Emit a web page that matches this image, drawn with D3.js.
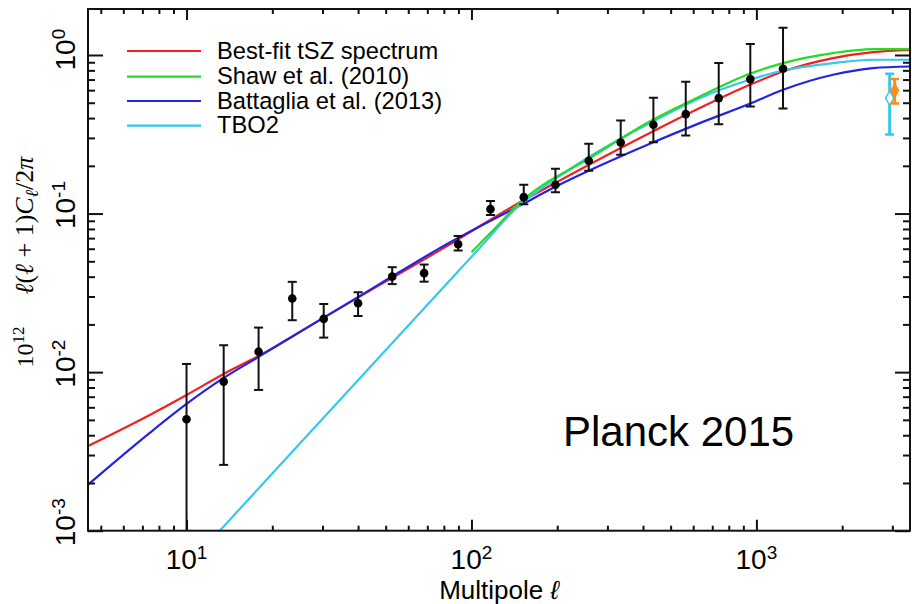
<!DOCTYPE html>
<html>
<head>
<meta charset="utf-8">
<script src="https://cdn.jsdelivr.net/npm/d3@7"></script>
<style>
  body { margin: 0; background: #fff; }
  text { font-family: "Liberation Sans", Arial, Helvetica, sans-serif; fill: #000; }
</style>
</head>
<body>
<div id="chart"></div>
<script>
// ---- data (D_l in units of 1e-12) ----
const ptEll  = [10.0, 13.5, 17.9, 23.5, 30.3, 40.0, 52.7, 68.2, 89.8, 116.6, 152.6, 197.1, 258, 334, 435, 565, 737.5, 952, 1240];
const ptVal  = [5.04e-3, 8.71e-3, 1.346e-2, 2.91e-2, 2.166e-2, 2.72e-2, 4.00e-2, 4.21e-2, 6.41e-2, 0.1066, 0.1269, 0.1518, 0.2151, 0.2805, 0.3628, 0.4238, 0.5346, 0.7047, 0.8184];
const ptHigh = [1.126e-2, 1.478e-2, 1.909e-2, 3.71e-2, 2.69e-2, 3.19e-2, 4.59e-2, 4.77e-2, 7.23e-2, 0.1202, 0.1517, 0.1914, 0.2753, 0.386, 0.537, 0.678, 0.889, 1.172, 1.484];
const ptLow  = [5e-4, 2.60e-3, 7.72e-3, 2.125e-2, 1.651e-2, 2.26e-2, 3.59e-2, 3.72e-2, 5.84e-2, 0.0981, 0.1146, 0.1365, 0.186, 0.2346, 0.282, 0.3105, 0.3664, 0.473, 0.4597];

// two extra points near l ~ 3000
const cyanPt   = { ell: 2936, val: 0.5346, high: 0.761, low: 0.315 };
const orangePt = { ell: 3057, val: 0.597, high: 0.7047, low: 0.494 };

// model curves
const redEll  = [4.51, 7.43, 10, 13.5, 17.9, 29.4, 47.7, 77.4, 151.7, 197, 432.8, 632.6, 947.4, 1240, 1857, 2566, 3451];
const redVal  = [3.42e-3, 5.37e-3, 7.18e-3, 9.74e-3, 1.265e-2, 2.135e-2, 3.55e-2, 5.86e-2, 0.1208, 0.1562, 0.3293, 0.4624, 0.6486, 0.787, 0.956, 1.043, 1.078];
const blueEll = [4.51, 7.43, 10, 13.5, 17.9, 29.4, 47.7, 77.4, 151.7, 197, 432.8, 632.6, 947.4, 1240, 1857, 2566, 3451];
const blueVal = [1.95e-3, 4.14e-3, 6.30e-3, 9.19e-3, 1.247e-2, 2.135e-2, 3.60e-2, 6.05e-2, 0.1151, 0.1474, 0.2805, 0.3718, 0.492, 0.603, 0.75, 0.827, 0.846];
const greenEll = [100, 116, 151.7, 260, 432.8, 632.6, 947.4, 1240, 1857, 2566, 3451];
const greenVal = [0.0571, 0.0748, 0.122, 0.2236, 0.3902, 0.547, 0.761, 0.889, 1.028, 1.089, 1.089];
const cyanEll = [13.08, 102.7, 147.8, 198.7, 260, 432.8, 632.6, 947.4, 1240, 1857, 2566, 3451];
const cyanVal = [1e-3, 0.0562, 0.1135, 0.1673, 0.2289, 0.3805, 0.5346, 0.6975, 0.798, 0.889, 0.933, 0.933];

const legendNames  = ["Best-fit tSZ spectrum", "Shaw et al. (2010)", "Battaglia et al. (2013)", "TBO2"];
const legendColors = ["#f2201f", "#22dd22", "#2323e6", "#35c8ee"];

const xMajor = [10, 100, 1000];
const xMajorExp = ["1", "2", "3"];
const yMajor = [1e-3, 1e-2, 1e-1, 1];
const yMajorExp = ["-3", "-2", "-1", "0"];

// ---- layout ----
const width = 912, height = 604;
const plotL = 88, plotR = 910, plotT = 9, plotB = 530.7;

const svg = d3.select("#chart").append("svg")
  .attr("width", width).attr("height", height);

const x = d3.scaleLog().domain([4.51, 3460]).range([plotL, plotR]);
const y = d3.scaleLog().domain([1e-3, 1.95]).range([plotB, plotT]);

svg.append("clipPath").attr("id", "plot-clip")
  .append("rect").attr("x", plotL).attr("y", plotT)
  .attr("width", plotR - plotL).attr("height", plotB - plotT);

// ---- curves ----
const line = d3.line().x(d => x(d[0])).y(d => y(d[1])).curve(d3.curveMonotoneX);
const curves = [
  [redEll, redVal, legendColors[0]],
  [blueEll, blueVal, legendColors[2]],
  [cyanEll, cyanVal, legendColors[3]],
  [greenEll, greenVal, legendColors[1]]
];
const curveG = svg.append("g").attr("clip-path", "url(#plot-clip)");
curves.forEach(([ls, vs, c]) => {
  curveG.append("path")
    .datum(ls.map((l, i) => [l, vs[i]]))
    .attr("d", line)
    .attr("fill", "none")
    .attr("stroke", c)
    .attr("stroke-width", 2.2);
});

// ---- data points with error bars ----
const pts = ptEll.map((l, i) => ({ ell: l, val: ptVal[i], high: ptHigh[i], low: ptLow[i] }));
const ptG = svg.append("g").attr("clip-path", "url(#plot-clip)");
const bars = ptG.selectAll("g.pt").data(pts).join("g").attr("class", "pt");
bars.append("line")
  .attr("x1", d => x(d.ell)).attr("x2", d => x(d.ell))
  .attr("y1", d => y(d.low)).attr("y2", d => y(d.high))
  .attr("stroke", "#111").attr("stroke-width", 2);
bars.append("line")
  .attr("x1", d => x(d.ell) - 4.5).attr("x2", d => x(d.ell) + 4.5)
  .attr("y1", d => y(d.high)).attr("y2", d => y(d.high))
  .attr("stroke", "#111").attr("stroke-width", 2);
bars.append("line")
  .attr("x1", d => x(d.ell) - 4.5).attr("x2", d => x(d.ell) + 4.5)
  .attr("y1", d => y(d.low)).attr("y2", d => y(d.low))
  .attr("stroke", "#111").attr("stroke-width", 2);
bars.append("circle")
  .attr("cx", d => x(d.ell)).attr("cy", d => y(d.val))
  .attr("r", 4.3).attr("fill", "#000");

// cyan and orange points
const diamond = d3.symbol().type(d3.symbolDiamond);
[[cyanPt, "#35c8ee", "#fff", 3, 60], [orangePt, "#ff8a1a", "#ff8a1a", 3, 50]].forEach(([p, c, f, w, s]) => {
  const g = ptG.append("g");
  g.append("line")
    .attr("x1", x(p.ell)).attr("x2", x(p.ell))
    .attr("y1", y(p.low)).attr("y2", y(p.high))
    .attr("stroke", c).attr("stroke-width", w);
  [p.low, p.high].forEach(v => {
    g.append("line")
      .attr("x1", x(p.ell) - 4.5).attr("x2", x(p.ell) + 4.5)
      .attr("y1", y(v)).attr("y2", y(v))
      .attr("stroke", c).attr("stroke-width", 2.5);
  });
  g.append("path")
    .attr("d", diamond.size(s)())
    .attr("transform", `translate(${x(p.ell)},${y(p.val)})`)
    .attr("fill", f).attr("stroke", c).attr("stroke-width", 1.5);
});

// ---- axes (ticks pointing inward on all four sides) ----
const xMinor = x.ticks().filter(t => !xMajor.includes(t));
const yMinor = y.ticks().filter(t => !yMajor.some(m => Math.abs(m - t) / m < 1e-6));

function ticks(g) {
  g.select(".domain").remove();
  g.selectAll(".tick line").attr("stroke", "#111").attr("stroke-width", 2);
}
svg.append("g").attr("transform", `translate(0,${plotB})`)
  .call(d3.axisBottom(x).tickValues(xMajor).tickSize(-11).tickFormat("")).call(ticks);
svg.append("g").attr("transform", `translate(0,${plotB})`)
  .call(d3.axisBottom(x).tickValues(xMinor).tickSize(-5).tickFormat("")).call(ticks);
svg.append("g").attr("transform", `translate(0,${plotT})`)
  .call(d3.axisTop(x).tickValues(xMajor).tickSize(-11).tickFormat("")).call(ticks);
svg.append("g").attr("transform", `translate(0,${plotT})`)
  .call(d3.axisTop(x).tickValues(xMinor).tickSize(-5).tickFormat("")).call(ticks);
svg.append("g").attr("transform", `translate(${plotL},0)`)
  .call(d3.axisLeft(y).tickValues(yMajor).tickSize(-15).tickFormat("")).call(ticks);
svg.append("g").attr("transform", `translate(${plotL},0)`)
  .call(d3.axisLeft(y).tickValues(yMinor).tickSize(-7).tickFormat("")).call(ticks);
svg.append("g").attr("transform", `translate(${plotR},0)`)
  .call(d3.axisRight(y).tickValues(yMajor).tickSize(-15).tickFormat("")).call(ticks);
svg.append("g").attr("transform", `translate(${plotR},0)`)
  .call(d3.axisRight(y).tickValues(yMinor).tickSize(-7).tickFormat("")).call(ticks);

svg.append("rect")
  .attr("x", plotL).attr("y", plotT)
  .attr("width", plotR - plotL).attr("height", plotB - plotT)
  .attr("fill", "none").attr("stroke", "#111").attr("stroke-width", 2);

// tick labels with superscript exponents
xMajor.forEach((t, i) => {
  const tx = svg.append("text")
    .attr("x", x(t)).attr("y", 569)
    .attr("text-anchor", "middle").attr("font-size", 28);
  tx.append("tspan").text("10");
  tx.append("tspan").attr("dy", -10).attr("font-size", 19).text(xMajorExp[i]);
});
yMajor.forEach((t, i) => {
  const ty = svg.append("text")
    .attr("transform", `translate(75,${y(t)}) rotate(-90)`)
    .attr("x", -15.5).attr("y", 0)
    .attr("font-size", 28);
  ty.append("tspan").text("10");
  ty.append("tspan").attr("dy", -10).attr("font-size", 19).text(yMajorExp[i]);
});

// axis titles
const xt = svg.append("text")
  .attr("x", 499).attr("y", 599)
  .attr("text-anchor", "middle").attr("font-size", 26);
xt.append("tspan").text("Multipole ");
xt.append("tspan").attr("font-style", "italic").text("ℓ");

const yt = svg.append("text")
  .attr("transform", "translate(33,262) rotate(-90)")
  .attr("text-anchor", "middle")
  .style("font-family", "'Liberation Serif', 'Times New Roman', serif")
  .attr("font-size", 26);
yt.append("tspan").attr("font-size", 24).text("10");
yt.append("tspan").attr("dy", -9).attr("font-size", 17).text("12");
yt.append("tspan").attr("dy", 9).attr("dx", 32).attr("font-style", "italic").text("ℓ");
yt.append("tspan").text("(");
yt.append("tspan").attr("font-style", "italic").text("ℓ");
yt.append("tspan").text(" + 1)");
yt.append("tspan").attr("font-style", "italic").text("C");
yt.append("tspan").attr("dy", 5).attr("font-size", 18).attr("font-style", "italic").text("ℓ");
yt.append("tspan").attr("dy", -5).text("/2");
yt.append("tspan").attr("font-style", "italic").text("π");

// legend
const legY = [51, 76.7, 101, 125.7];
legendNames.forEach((name, i) => {
  svg.append("line")
    .attr("x1", 127).attr("x2", 201)
    .attr("y1", legY[i]).attr("y2", legY[i])
    .attr("stroke", legendColors[i]).attr("stroke-width", 2.2);
  svg.append("text")
    .attr("x", 217).attr("y", legY[i] + 7.5)
    .attr("font-size", 23.7)
    .text(name);
});

// annotation
svg.append("text")
  .attr("x", 563).attr("y", 446)
  .attr("font-size", 42)
  .text("Planck 2015");
</script>
</body>
</html>
